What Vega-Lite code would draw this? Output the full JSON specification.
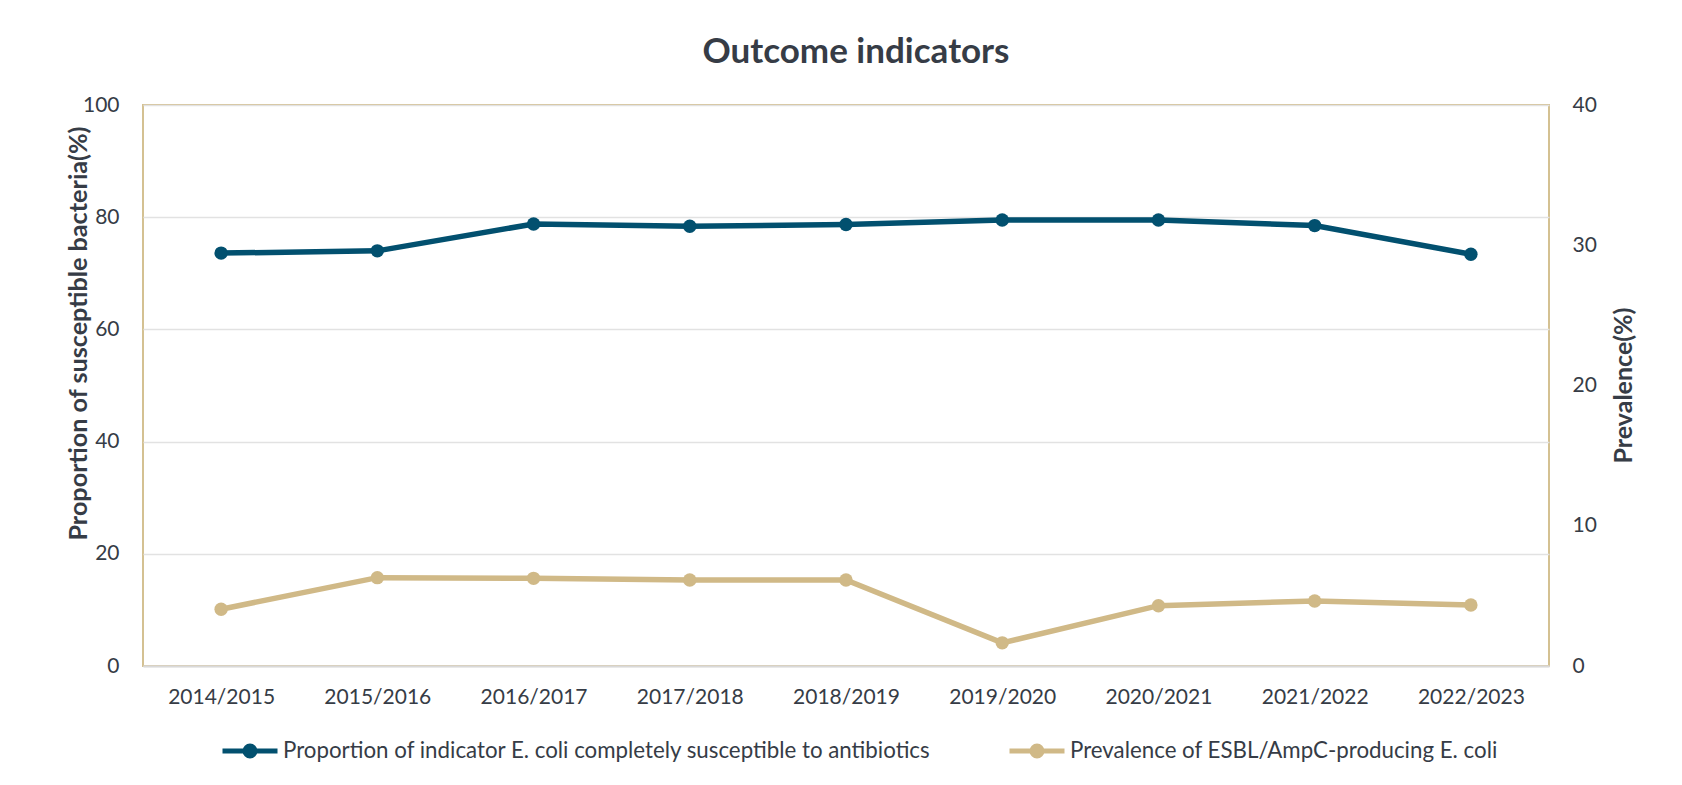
{
  "$schema": "https://vega.github.io/schema/vega-lite/v6.json",
  "width": 1406,
  "height": 561,
  "autosize": {"type": "none"},
  "padding": {"left": 143, "top": 105, "right": 133, "bottom": 119},
  "background": "#ffffff",
  "title": {
    "text": "Outcome indicators",
    "font": "Lato",
    "fontSize": 35,
    "fontWeight": "bold",
    "color": "#363C46",
    "anchor": "middle",
    "dx": 10,
    "offset": 24
  },
  "config": {
    "view": {"stroke": "#D4C192", "strokeWidth": 2},
    "axis": {
      "labelFont": "Lato",
      "labelFontSize": 21,
      "labelColor": "#363C46",
      "titleFont": "Lato",
      "titleFontSize": 25,
      "titleFontWeight": "bold",
      "titleColor": "#363C46",
      "ticks": false
    }
  },
  "encoding": {
    "x": {
      "field": "season",
      "type": "ordinal",
      "sort": null,
      "scale": {"type": "point", "padding": 0.5},
      "axis": {
        "title": null,
        "labelAngle": 0,
        "labelPadding": 20,
        "domain": true,
        "domainColor": "#D9D9D9",
        "domainWidth": 2,
        "grid": false
      }
    }
  },
  "layer": [
    {
      "data": {
        "values": [
          {"season": "2014/2015", "series": "Proportion of indicator E. coli completely susceptible to antibiotics", "value": 73.6},
          {"season": "2015/2016", "series": "Proportion of indicator E. coli completely susceptible to antibiotics", "value": 74.0},
          {"season": "2016/2017", "series": "Proportion of indicator E. coli completely susceptible to antibiotics", "value": 78.8},
          {"season": "2017/2018", "series": "Proportion of indicator E. coli completely susceptible to antibiotics", "value": 78.4},
          {"season": "2018/2019", "series": "Proportion of indicator E. coli completely susceptible to antibiotics", "value": 78.7},
          {"season": "2019/2020", "series": "Proportion of indicator E. coli completely susceptible to antibiotics", "value": 79.5},
          {"season": "2020/2021", "series": "Proportion of indicator E. coli completely susceptible to antibiotics", "value": 79.5},
          {"season": "2021/2022", "series": "Proportion of indicator E. coli completely susceptible to antibiotics", "value": 78.5},
          {"season": "2022/2023", "series": "Proportion of indicator E. coli completely susceptible to antibiotics", "value": 73.4}
        ]
      },
      "encoding": {
        "y": {
          "field": "value",
          "type": "quantitative",
          "scale": {"domain": [0, 100], "nice": false},
          "axis": {
            "title": "Proportion of susceptible bacteria(%)",
            "values": [0, 20, 40, 60, 80, 100],
            "domain": false,
            "grid": true,
            "gridColor": "#E2E2E2",
            "gridWidth": 1.3,
            "labelPadding": 24,
            "titleFontSize": 25.2,
            "titleX": -65,
            "titleY": 228,
            "titleAngle": 270,
            "titleBaseline": "middle",
            "titleAlign": "center"
          }
        },
        "color": {
          "field": "series",
          "type": "nominal",
          "scale": {
            "domain": [
              "Proportion of indicator E. coli completely susceptible to antibiotics",
              "Prevalence of ESBL/AmpC-producing E. coli"
            ],
            "range": ["#02506F", "#D0B987"]
          },
          "legend": {
            "title": null,
            "orient": "none",
            "legendX": 77,
            "legendY": 616,
            "direction": "horizontal",
            "columnPadding": 67,
            "labelFont": "Lato",
            "labelFontSize": 22.3,
            "labelColor": "#363C46",
            "labelOffset": 3,
            "labelLimit": 1000,
            "symbolType": "M-1,0L1,0M-0.18,0A0.18,0.18,0,1,1,0.18,0A0.18,0.18,0,1,1,-0.18,0Z",
            "symbolSize": 3025,
            "symbolStrokeWidth": 5,
            "symbolOpacity": 1,
            "encode": {
              "symbols": {
                "update": {
                  "fill": {"scale": "color", "field": "value"},
                  "stroke": {"scale": "color", "field": "value"},
                  "strokeWidth": {"value": 5},
                  "opacity": {"value": 1}
                }
              }
            }
          }
        }
      },
      "layer": [
        {"mark": {"type": "line", "strokeWidth": 5.5}},
        {"mark": {"type": "point", "filled": true, "size": 180, "opacity": 1}}
      ]
    },
    {
      "data": {
        "values": [
          {"season": "2014/2015", "series": "Prevalence of ESBL/AmpC-producing E. coli", "value": 4.05},
          {"season": "2015/2016", "series": "Prevalence of ESBL/AmpC-producing E. coli", "value": 6.3},
          {"season": "2016/2017", "series": "Prevalence of ESBL/AmpC-producing E. coli", "value": 6.25},
          {"season": "2017/2018", "series": "Prevalence of ESBL/AmpC-producing E. coli", "value": 6.13},
          {"season": "2018/2019", "series": "Prevalence of ESBL/AmpC-producing E. coli", "value": 6.13},
          {"season": "2019/2020", "series": "Prevalence of ESBL/AmpC-producing E. coli", "value": 1.65},
          {"season": "2020/2021", "series": "Prevalence of ESBL/AmpC-producing E. coli", "value": 4.3},
          {"season": "2021/2022", "series": "Prevalence of ESBL/AmpC-producing E. coli", "value": 4.64},
          {"season": "2022/2023", "series": "Prevalence of ESBL/AmpC-producing E. coli", "value": 4.35}
        ]
      },
      "encoding": {
        "y": {
          "field": "value",
          "type": "quantitative",
          "scale": {"domain": [0, 40], "nice": false},
          "axis": {
            "orient": "right",
            "title": "Prevalence(%)",
            "values": [0, 10, 20, 30, 40],
            "domain": false,
            "grid": false,
            "labelPadding": 23,
            "titleX": 74,
            "titleY": 280,
            "titleAngle": 270,
            "titleBaseline": "middle",
            "titleAlign": "center"
          }
        },
        "color": {"field": "series", "type": "nominal"}
      },
      "layer": [
        {"mark": {"type": "line", "strokeWidth": 5.5}},
        {"mark": {"type": "point", "filled": true, "size": 180, "opacity": 1}}
      ]
    }
  ],
  "resolve": {"scale": {"y": "independent"}}
}
